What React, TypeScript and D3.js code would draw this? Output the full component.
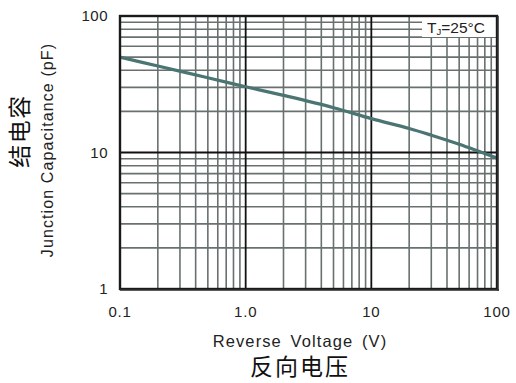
import React, { useEffect, useRef } from 'react'
import * as d3 from 'd3'

// reverse voltage (V) vs junction capacitance (pF)
const voltage = [0.1, 0.2, 0.5, 1, 2, 5, 10, 20, 30, 50, 100]
const capacitance = [50, 43, 35.3, 30.3, 26.2, 21.3, 17.7, 15, 13.4, 11.5, 9.1]

const xTicks = [0.1, 1, 10, 100]
const xTickLabels = ['0.1', '1.0', '10', '100']
const yTicks = [1, 10, 100]
const yTickLabels = ['1', '10', '100']

export default function App() {
  const svgRef = useRef<SVGSVGElement>(null)

  useEffect(() => {
    const width = 516
    const height = 383
    const margin = { top: 16, right: 19, bottom: 94, left: 120 }
    const w = width - margin.left - margin.right
    const h = height - margin.top - margin.bottom

    const svg = d3.select(svgRef.current)
    svg.selectAll('*').remove()
    svg.attr('width', width).attr('height', height)

    const g = svg.append('g').attr('transform', `translate(${margin.left},${margin.top})`)

    const x = d3.scaleLog().domain([0.1, 100]).range([0, w])
    const y = d3.scaleLog().domain([1, 100]).range([h, 0])

    // minor grid: 2..9 in every decade
    const minorX: number[] = []
    const minorY: number[] = []
    ;[0.1, 1, 10].forEach(d => { for (let k = 2; k <= 9; k++) minorX.push(d * k) })
    ;[1, 10].forEach(d => { for (let k = 2; k <= 9; k++) minorY.push(d * k) })

    const grey = '#68716f'
    g.append('g').selectAll('line').data(minorX).join('line')
      .attr('x1', d => x(d)).attr('x2', d => x(d)).attr('y1', 0).attr('y2', h)
      .attr('stroke', grey).attr('stroke-width', 1.6)
    g.append('g').selectAll('line').data(minorY).join('line')
      .attr('y1', d => y(d)).attr('y2', d => y(d)).attr('x1', 0).attr('x2', w)
      .attr('stroke', grey).attr('stroke-width', 1.6)

    // decade lines
    g.append('g').selectAll('line').data([1, 10]).join('line')
      .attr('x1', d => x(d)).attr('x2', d => x(d)).attr('y1', 0).attr('y2', h)
      .attr('stroke', '#111').attr('stroke-width', 1.8)
    g.append('line').attr('x1', 0).attr('x2', w).attr('y1', y(10)).attr('y2', y(10))
      .attr('stroke', '#111').attr('stroke-width', 1.8)

    const font = 'Liberation Sans, Arial, sans-serif'

    // temperature note box covers the grid
    const boxX = w - 75
    g.append('rect').attr('x', boxX).attr('y', 1).attr('width', 74).attr('height', 20).attr('fill', '#fff')
    const note = g.append('text').attr('x', boxX + 5).attr('y', 17)
      .attr('font-family', font).attr('font-size', 15.5).attr('fill', '#222')
    note.append('tspan').text('T')
    note.append('tspan').attr('font-size', 9.5).attr('dy', 2).text('J')
    note.append('tspan').attr('dy', -2).text('=25°C')

    // curve
    const line = d3.line<number>()
      .x((_, i) => x(voltage[i]))
      .y(d => y(d))
      .curve(d3.curveCatmullRom)
    g.append('path').datum(capacitance).attr('fill', 'none')
      .attr('stroke', '#4b7572').attr('stroke-width', 3.2).attr('d', line)

    // frame
    g.append('rect').attr('x', 0).attr('y', 0).attr('width', w).attr('height', h)
      .attr('fill', 'none').attr('stroke', '#1a1a1a').attr('stroke-width', 2.4)
    g.append('line').attr('x1', w + 1).attr('x2', w + 1).attr('y1', 0).attr('y2', h + 2)
      .attr('stroke', '#333').attr('stroke-width', 1.5)
    g.append('line').attr('x1', 0).attr('x2', w + 2).attr('y1', h + 1).attr('y2', h + 1)
      .attr('stroke', '#333').attr('stroke-width', 1.5)

    // tick labels
    g.append('g').selectAll('text').data(xTicks).join('text')
      .attr('x', d => x(d)).attr('y', h + 28).attr('text-anchor', 'middle')
      .attr('font-family', font).attr('font-size', 15).attr('letter-spacing', 0.8).attr('fill', '#222')
      .text((_, i) => xTickLabels[i])
    g.append('g').selectAll('text').data(yTicks).join('text')
      .attr('x', -12).attr('y', d => y(d) + 5).attr('text-anchor', 'end')
      .attr('font-family', font).attr('font-size', 15).attr('letter-spacing', 0.5).attr('fill', '#222')
      .text((_, i) => yTickLabels[i])

    // axis titles
    svg.append('text').attr('x', 300).attr('y', 347).attr('text-anchor', 'middle')
      .attr('font-family', font).attr('font-size', 16.5).attr('fill', '#222')
      .attr('letter-spacing', 1.1).attr('word-spacing', 3)
      .text('Reverse Voltage (V)')
    svg.append('text').attr('x', 300).attr('y', 375).attr('text-anchor', 'middle')
      .attr('font-family', 'Noto Sans CJK SC, sans-serif').attr('font-size', 23).attr('letter-spacing', 2).attr('fill', '#111')
      .text('反向电压')
    svg.append('text').attr('transform', 'translate(53,150) rotate(-90)').attr('text-anchor', 'middle')
      .attr('font-family', font).attr('font-size', 16).attr('letter-spacing', 1.1).attr('fill', '#222')
      .text('Junction Capacitance (pF)')
    svg.append('text').attr('transform', 'translate(28,131) rotate(-90)').attr('text-anchor', 'middle')
      .attr('font-family', 'Noto Sans CJK SC, sans-serif').attr('font-size', 23).attr('letter-spacing', 1.5).attr('fill', '#111')
      .text('结电容')
  }, [])

  return (
    <div style={{ position: 'absolute', left: 0, top: 0 }}>
      <svg ref={svgRef}></svg>
    </div>
  )
}
